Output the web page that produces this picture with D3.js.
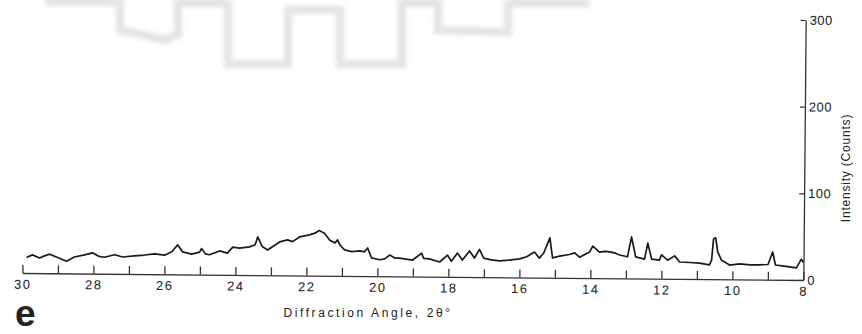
<!DOCTYPE html>
<html><head><meta charset="utf-8">
<script src="https://cdn.jsdelivr.net/npm/d3@7"></script>
<style>
html,body{margin:0;padding:0;background:#fff;}
svg{display:block;}
text{font-family:"Liberation Sans",Arial,sans-serif;fill:#222;}
</style></head>
<body>
<svg id="chart" width="862" height="334"></svg>
<script>
// 2θ angles (degrees)
const angles = [29.89,29.72,29.52,29.38,29.24,28.96,28.76,28.54,28.25,28.03,27.85,27.69,27.41,27.18,26.85,26.56,26.28,26.0,25.80,25.63,25.49,25.24,25.01,24.96,24.85,24.73,24.45,24.23,24.08,23.89,23.61,23.45,23.38,23.25,23.10,22.76,22.54,22.40,22.20,21.92,21.77,21.65,21.50,21.35,21.20,21.13,21.05,20.93,20.73,20.50,20.37,20.28,20.17,19.94,19.80,19.66,19.50,19.38,19.01,18.76,18.70,18.54,18.25,18.03,17.92,17.75,17.61,17.41,17.27,17.13,17.01,16.80,16.56,16.30,16.0,15.80,15.58,15.44,15.32,15.15,15.07,14.87,14.60,14.45,14.31,14.03,13.94,13.75,13.60,13.46,13.30,13.18,12.96,12.85,12.73,12.48,12.39,12.28,12.06,12.00,11.83,11.63,11.49,11.20,10.93,10.65,10.59,10.54,10.48,10.42,10.31,10.08,9.80,9.50,9.24,9.00,8.87,8.79,8.60,8.39,8.20,8.06,8.00];
// Intensity (counts)
const counts = [18,21,17.5,20,22,17.5,14,19,21.5,24,20,19,22,19.5,21,22,23.5,22,26,34,26,23.5,26,30,24,23,27.5,25,32,31,32.5,35,44,33,29,38.5,41,39,44.5,47,49,52,49,41,38,41.5,35,30,28,29,28,32.5,21,19,20,24.5,21,21,19,27,21,20.5,17,25,18,27.5,19.5,30,22,32,22,20,19,20,21.5,24,29.5,22.5,28.5,46,23,25,27,29,24,30,37,30,31,30.5,29,27,25,48,25,22.5,41,22.5,21.5,27.5,21.5,26.5,19.5,19,18.5,16.5,22,46.5,48,31.5,22,16.5,18,17,17,17.5,32,17,16,15,14,24,20];
const xTicks = [8,9,10,11,12,13,14,15,16,17,18,19,20,21,22,23,24,25,26,27,28,29,30];
const xLabelTicks = [8,10,12,14,16,18,20,22,24,26,28,30];
const yTicks = [0,100,200,300];

const svg = d3.select("#chart");
const defs = svg.append("defs");
defs.append("filter").attr("id","blur").attr("x","-10%").attr("y","-50%").attr("width","120%").attr("height","200%")
  .append("feGaussianBlur").attr("stdDeviation",2.2);

// faint scan artefact at the top of the page (decoration)
const artefact = [[46,2],[120,2],[120,30],[165,40],[178,34],[178,3],[228,3],[228,64],[288,64],[288,10],[340,10],[340,64],[402,64],[402,3],[438,3],[438,30],[508,32],[508,3],[590,3]];
svg.append("path")
  .attr("d", d3.line()(artefact))
  .attr("fill","none").attr("stroke","#dcdcdc").attr("stroke-width",8)
  .attr("stroke-linejoin","miter").attr("filter","url(#blur)").attr("opacity",0.8);

const g = svg.append("g").attr("transform","rotate(0.514,413,150)");

const x = d3.scaleLinear().domain([30,8]).range([23.5,804.5]);
const y = d3.scaleLinear().domain([0,300]).range([276.5,16.5]);

// x axis
const xAxis = g.append("g").attr("transform",`translate(0,${y(0)})`)
  .call(d3.axisBottom(x).tickValues(xTicks).tickSizeInner(-8).tickSizeOuter(0).tickPadding(6.5)
    .tickFormat(d => xLabelTicks.includes(d) ? d : ""));
xAxis.select(".domain").attr("stroke","#333").attr("stroke-width",1.3);
xAxis.selectAll(".tick line").attr("stroke","#333").attr("stroke-width",1.3);
xAxis.selectAll(".tick text").attr("font-size",13).attr("letter-spacing",1.5)
  .attr("fill","#222").attr("font-family","Liberation Sans, Arial, sans-serif");

// y axis on the right
const yAxis = g.append("g").attr("transform",`translate(${x(8)},0)`)
  .call(d3.axisRight(y).tickValues(yTicks).tickSizeInner(-5).tickSizeOuter(0).tickPadding(4));
yAxis.select(".domain").attr("stroke","#333").attr("stroke-width",1.3);
yAxis.selectAll(".tick line").attr("stroke","#333").attr("stroke-width",1.2);
yAxis.selectAll(".tick text").attr("font-size",13).attr("letter-spacing",0.5)
  .attr("fill","#222").attr("font-family","Liberation Sans, Arial, sans-serif");

// trace
const data = angles.map((a,i)=>({a, c:counts[i]}));
g.append("path").datum(data)
  .attr("fill","none").attr("stroke","#1a1a1a").attr("stroke-width",1.7)
  .attr("stroke-linejoin","round")
  .attr("d", d3.line().x(d=>x(d.a)).y(d=>y(d.c)));

// titles
svg.append("text").attr("x",368).attr("y",317).attr("text-anchor","middle")
  .attr("font-size",12).attr("letter-spacing",2.6)
  .text("Diffraction Angle, 2θ°");
svg.append("text").attr("transform","translate(850,168) rotate(-90)")
  .attr("text-anchor","middle").attr("font-size",12).attr("letter-spacing",0.8)
  .text("Intensity (Counts)");
svg.append("text").attr("x",15).attr("y",326).attr("font-size",37).attr("font-weight","bold")
  .attr("fill","#333").text("e");
</script>
</body></html>
